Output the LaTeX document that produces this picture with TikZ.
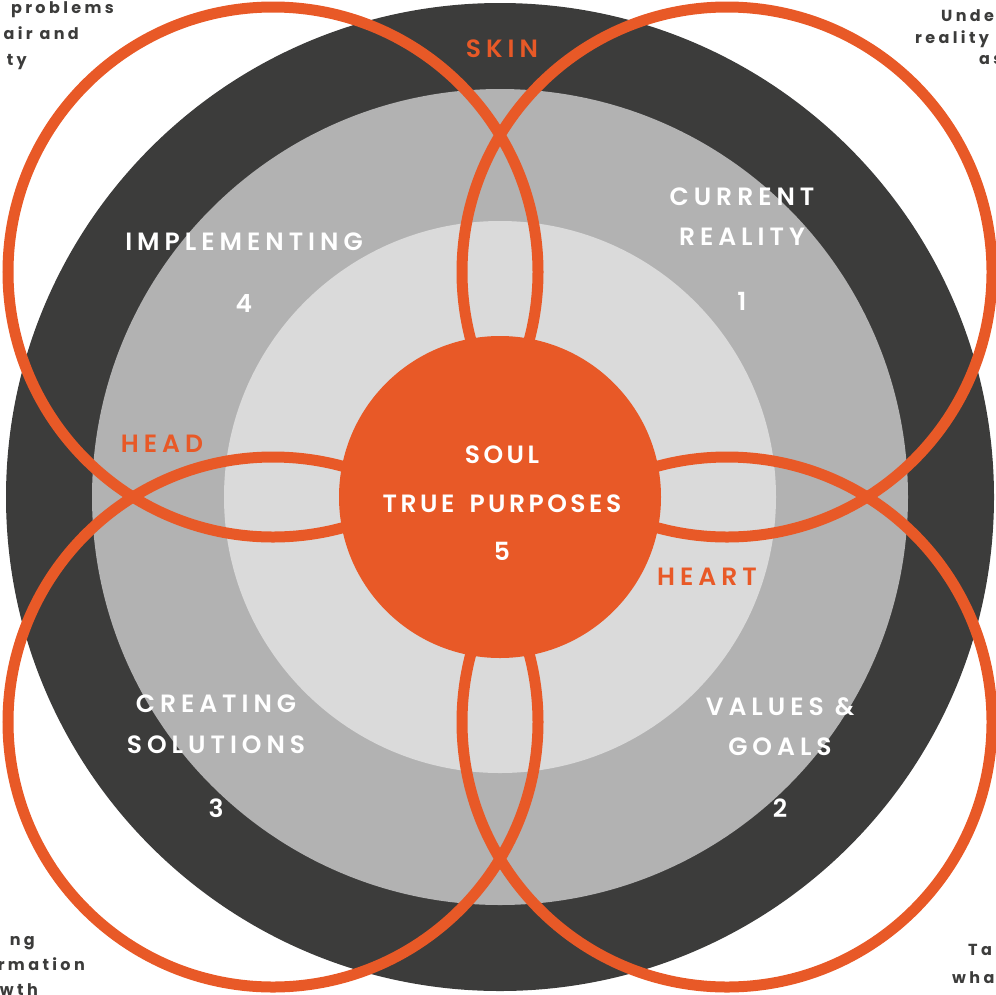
\documentclass[tikz,border=0pt]{standalone}
\usepackage{fontspec}
\setmainfont{Poppins}
\newfontfamily\ringfont{Poppins}[UprightFont=* SemiBold, LetterSpace=20]
\newfontfamily\corefont{Poppins}[UprightFont=* SemiBold, LetterSpace=14, WordSpace=1.6]
\newfontfamily\notefont{Poppins}[UprightFont=* Bold, LetterSpace=21]
\definecolor{charcoal}{HTML}{3C3C3B}
\definecolor{midgrey}{HTML}{B2B2B2}
\definecolor{lightgrey}{HTML}{DADADA}
\definecolor{flame}{HTML}{E85927}
\tikzset{
  ring/.style={draw=flame, line width=11pt},
  stagelabel/.style={text=white, anchor=base, font=\ringfont\fontsize{25}{25}\selectfont, inner sep=0pt},
  corelabel/.style={text=white, anchor=base, font=\corefont\fontsize{25}{25}\selectfont, inner sep=0pt},
  layerlabel/.style={text=flame, anchor=base, font=\ringfont\fontsize{25}{25}\selectfont, inner sep=0pt},
  note/.style={text=charcoal, anchor=base, font=\notefont\fontsize{16}{16}\selectfont, inner sep=0pt}
}
\begin{document}
\begin{tikzpicture}[x=1pt,y=-1pt]
\useasboundingbox (0,0) rectangle (996,994);
\clip (0,0) rectangle (996,994);
\coordinate (c) at (500,497);
% nested discs
\fill[charcoal] (c) circle (494);
\fill[midgrey] (c) circle (408);
\fill[lightgrey] (c) circle (276);
% four overlapping rings
\draw[ring] (273,272) circle (265);
\draw[ring] (727,272) circle (265);
\draw[ring] (273,722) circle (265);
\draw[ring] (727,722) circle (265);
% central disc
\fill[flame] (c) circle (161);
% ring-layer names
\node[layerlabel] (skin) at (502,57) {SKIN};
\node[layerlabel] (head) at (162,452) {HEAD};
\node[layerlabel] (heart) at (707,585) {HEART};
% stages
\node[stagelabel] (cur1) at (742,205) {CURRENT};
\node[stagelabel] (cur2) at (742,245) {REALITY};
\node[stagelabel] (curn) at (742,310) {1};
\node[stagelabel] (imp1) at (244,250) {IMPLEMENTING};
\node[stagelabel] (impn) at (244,312) {4};
\node[stagelabel] (cre1) at (216,712) {CREATING};
\node[stagelabel] (cre2) at (216,753) {SOLUTIONS};
\node[stagelabel] (cren) at (216,817) {3};
\node[stagelabel] (val1) at (780,715) {VALUES \&};
\node[stagelabel] (val2) at (780,755) {GOALS};
\node[stagelabel] (valn) at (780,817) {2};
% centre
\node[corelabel] (soul) at (502,463) {SOUL};
\node[corelabel] (purp) at (502,512) {TRUE PURPOSES};
\node[corelabel] (soln) at (502,560) {5};
% corner notes
\node[note, anchor=base east] (tl1) at (114,13) {problems};
\node[note, anchor=base east] (tl2) at (79,39) {air and};
\node[note, anchor=base east] (tl3) at (27,65) {ty};
\node[note, anchor=base west] (tr1) at (941,21) {Unde};
\node[note, anchor=base west] (tr2) at (915,43) {reality};
\node[note, anchor=base west] (tr3) at (979,64) {as};
\node[note, anchor=base east] (bl1) at (35,945) {ng};
\node[note, anchor=base east] (bl2) at (85,970) {rmation};
\node[note, anchor=base east] (bl3) at (38,995) {wth};
\node[note, anchor=base west] (br1) at (968,955) {Tap};
\node[note, anchor=base west] (br2) at (952,983) {what};
\end{tikzpicture}
\end{document}
